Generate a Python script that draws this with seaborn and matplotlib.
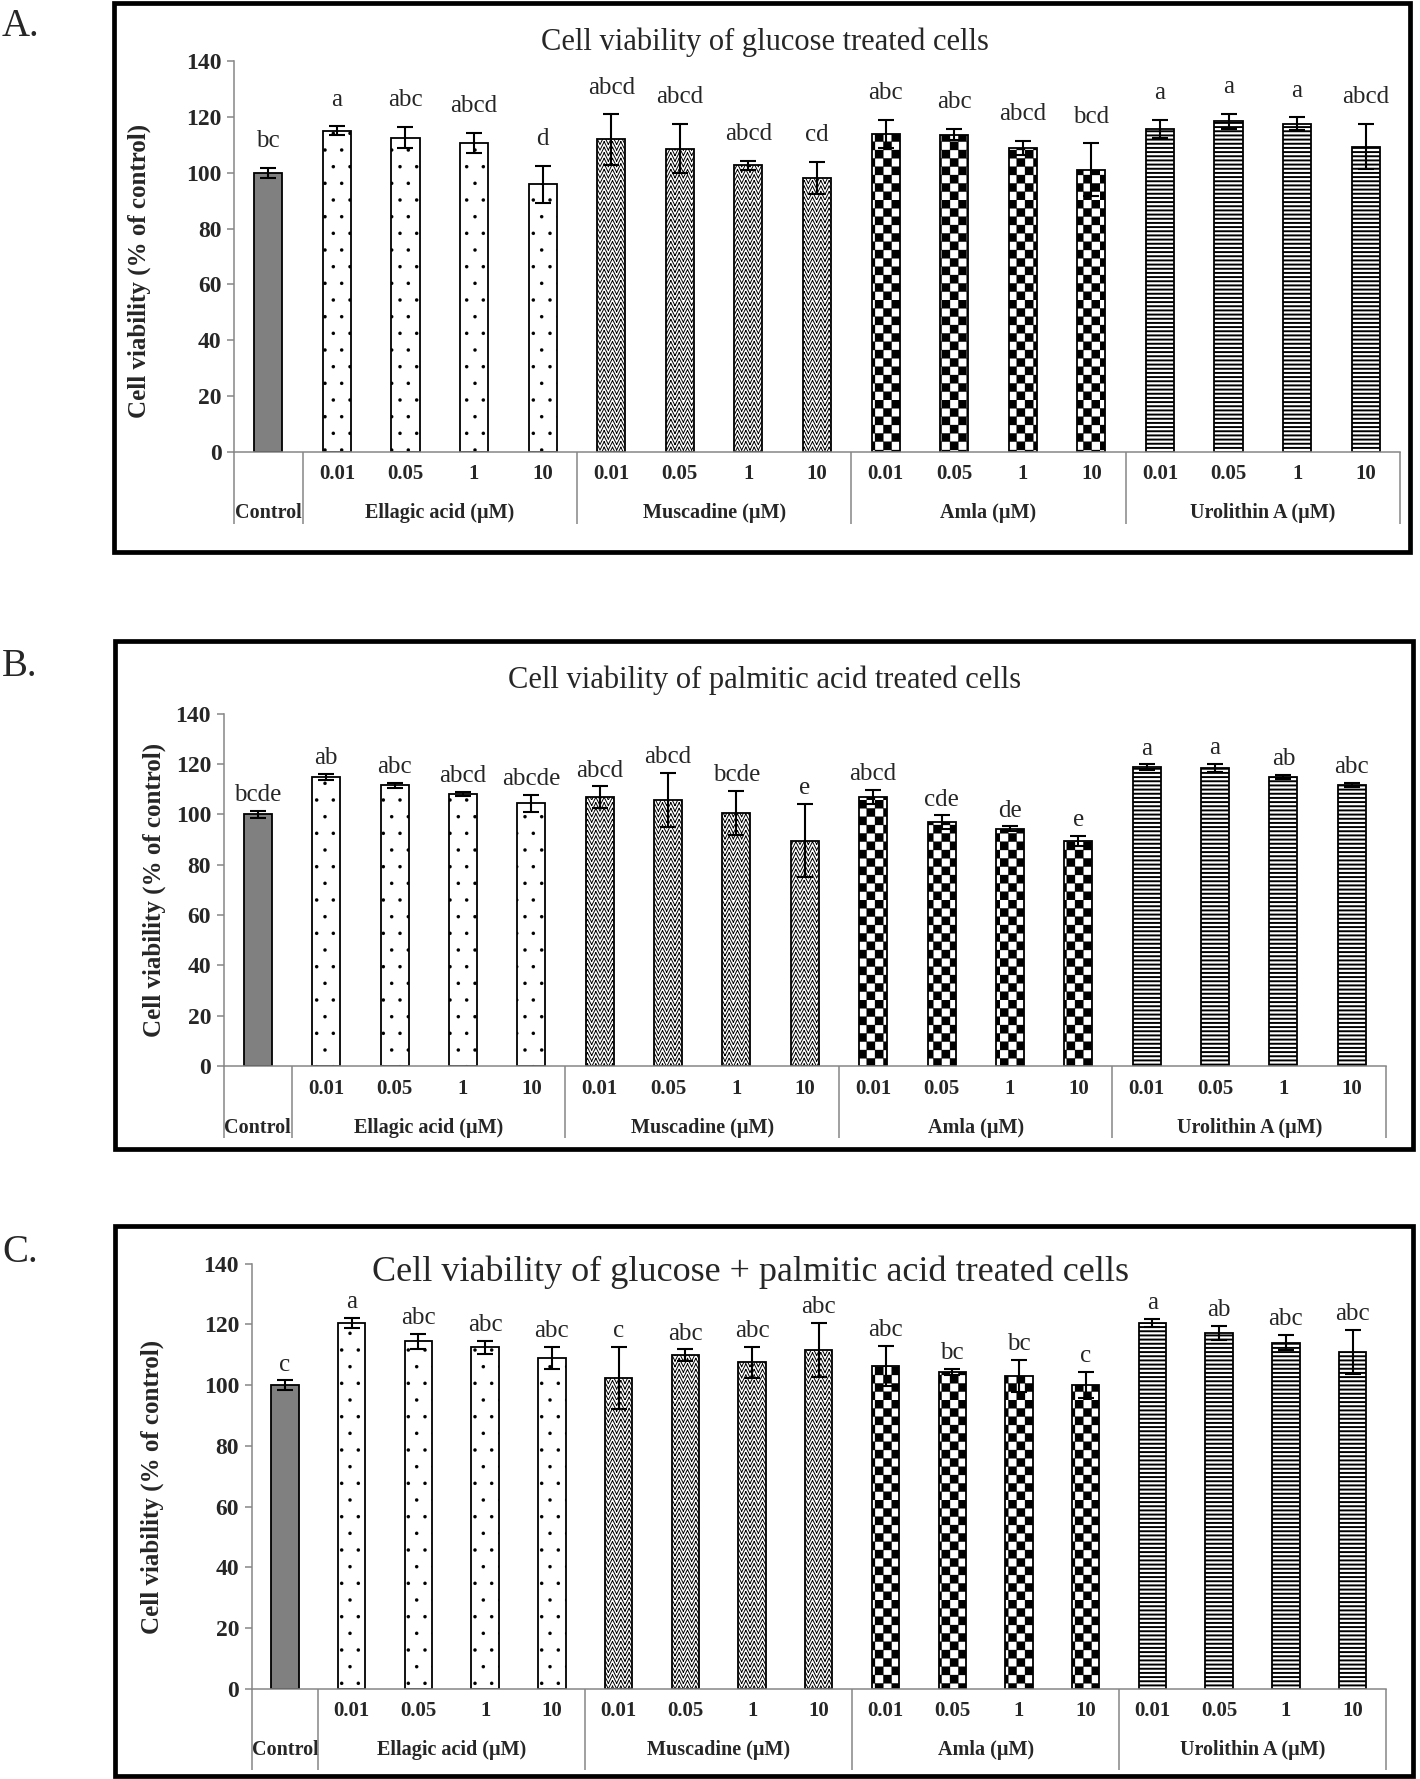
import numpy as np
import pandas as pd
import matplotlib
matplotlib.use("Agg")
import matplotlib.pyplot as plt
import matplotlib.hatch as mhatch
from matplotlib.path import Path
from matplotlib.patches import Rectangle
import seaborn as sns

# ---- data ----
groups = ["Control", "Ellagic acid (µM)", "Muscadine (µM)", "Amla (µM)", "Urolithin A (µM)"]
doses = ["0.01", "0.05", "1", "10"]

glucose_mean = [100.0, 115.2, 112.7, 110.8, 95.9, 112.0, 108.7, 102.7, 98.2,
                114.0, 113.7, 109.0, 101.1, 115.9, 118.5, 117.7, 109.4]
glucose_sd = [1.7, 1.5, 3.7, 3.6, 6.5, 9.0, 8.8, 1.5, 5.8,
              5.1, 2.0, 2.4, 9.5, 3.2, 2.7, 2.2, 8.1]
glucose_letters = ["bc", "a", "abc", "abcd", "d", "abcd", "abcd", "abcd", "cd",
                   "abc", "abc", "abcd", "bcd", "a", "a", "a", "abcd"]

palmitic_mean = [100.0, 115.0, 111.5, 108.0, 104.4, 106.8, 105.6, 100.4, 89.6,
                 106.9, 96.8, 94.2, 89.4, 118.8, 118.5, 114.8, 111.7]
palmitic_sd = [1.3, 1.2, 1.1, 0.9, 3.4, 4.3, 10.8, 8.8, 14.5,
               2.8, 2.8, 1.0, 2.0, 1.0, 1.6, 0.8, 0.9]
palmitic_letters = ["bcde", "ab", "abc", "abcd", "abcde", "abcd", "abcd", "bcde", "e",
                    "abcd", "cde", "de", "e", "a", "a", "ab", "abc"]

combo_mean = [100.0, 120.5, 114.4, 112.5, 108.9, 102.4, 109.9, 107.5, 111.7,
              106.3, 104.4, 103.1, 100.1, 120.5, 117.3, 114.0, 110.9]
combo_sd = [1.6, 1.7, 2.6, 2.2, 3.7, 10.3, 1.9, 5.2, 8.9,
            6.6, 1.1, 5.3, 4.2, 1.3, 2.3, 2.5, 7.3]
combo_letters = ["c", "a", "abc", "abc", "abc", "c", "abc", "abc", "abc",
                 "abc", "bc", "bc", "c", "a", "ab", "abc", "abc"]

titles = ["Cell viability of glucose treated cells",
          "Cell viability of palmitic acid treated cells",
          "Cell viability of glucose + palmitic acid treated cells"]


# ---- extra hatch patterns: 'O' -> checkerboard, '*' -> zig zag ----
class CheckerHatch(mhatch.HatchPatternBase):
    def __init__(self, hatch, density):
        self.n = hatch.count("O") * density
        self.cells = [(i, j) for i in range(self.n) for j in range(self.n) if (i + j) % 2 == 0]
        self.num_vertices = 5 * len(self.cells)

    def set_vertices_and_codes(self, vertices, codes):
        s = 1.0 / self.n
        sq = np.array([[0, 0], [1, 0], [1, 1], [0, 1], [0, 0]], float) * s
        for k, (i, j) in enumerate(self.cells):
            vertices[5 * k:5 * k + 5] = sq + [i * s, j * s]
            codes[5 * k:5 * k + 5] = [Path.MOVETO, Path.LINETO, Path.LINETO,
                                      Path.LINETO, Path.CLOSEPOLY]


class ZigzagHatch(mhatch.HatchPatternBase):
    def __init__(self, hatch, density):
        n = hatch.count("*") * density
        self.teeth = n
        self.rows = n * 3 // 2
        self.extra = 2 if n else 0
        self.num_vertices = (self.rows + self.extra) * self.teeth * 4

    def set_vertices_and_codes(self, vertices, codes):
        t = self.teeth
        xs = np.linspace(0, 1, 2 * t + 1)
        ys = np.tile([0.0, 1.0], t + 1)[:2 * t + 1] / t
        seg = np.empty((4 * t, 2))
        seg[0::2, 0], seg[0::2, 1] = xs[:-1], ys[:-1]
        seg[1::2, 0], seg[1::2, 1] = xs[1:], ys[1:]
        m = len(seg)
        for i, r in enumerate(range(-self.extra, self.rows)):
            vertices[i * m:(i + 1) * m] = seg + [0, r / self.rows]
        codes[0::2] = Path.MOVETO
        codes[1::2] = Path.LINETO


mhatch._hatch_types = [CheckerHatch if h is mhatch.LargeCircles else
                       ZigzagHatch if h is mhatch.Stars else h
                       for h in mhatch._hatch_types]

sns.set_style("white")
plt.rcParams["font.family"] = ["Liberation Serif", "DejaVu Serif"]
plt.rcParams["hatch.linewidth"] = 0.8

GRAY = "#868686"
W, H = 1420, 1779
names = ["Control"] + [f"{g} {d}" for g in groups[1:] for d in doses]
level1 = [""] + doses * 4
group_pos = [0, 2.5, 6.5, 10.5, 14.5]
bounds = [-0.5, 0.5, 4.5, 8.5, 12.5, 16.5]
hatches = [None] + ["."] * 4 + ["**"] * 4 + ["OO"] * 4 + ["----"] * 4
hatch_lw = [0.8] + [0.1] * 4 + [0.7] * 4 + [0.2] * 4 + [1.4] * 4


def px_axes(left, right, top, bottom):
    return [left / W, 1 - bottom / H, (right - left) / W, (bottom - top) / H]


def draw_panel(ax, means, sds, letters, letter_pad, sep_len):
    df = pd.DataFrame({"condition": names, "viability": means})
    sns.barplot(data=df, x="condition", y="viability", order=names, color="white",
                width=0.41, edgecolor="black", linewidth=1.3, errorbar=None,
                saturation=1, ax=ax)
    for i, bar in enumerate(ax.patches[:len(names)]):
        if i == 0:
            bar.set_facecolor("#808080")
        else:
            bar.set_facecolor("white")
            bar.set_hatch(hatches[i])
            if hasattr(bar, "set_hatch_linewidth"):
                bar.set_hatch_linewidth(hatch_lw[i])
    x = np.arange(len(names))
    ax.errorbar(x, means, yerr=sds, fmt="none", ecolor="black", elinewidth=1.5,
                capsize=6, capthick=1.5, zorder=3)
    for i, lab in enumerate(letters):
        ax.annotate(lab, (i, means[i] + sds[i]), xytext=(0, letter_pad),
                    textcoords="offset points", ha="center", va="baseline", fontsize=18)

    ax.set_xlim(-0.5, 16.5)
    ax.set_ylim(0, 140)
    ax.set_yticks(range(0, 141, 20))
    ax.set_yticklabels([str(v) for v in range(0, 141, 20)], fontweight="bold", fontsize=17)
    ax.set_xticks(x, labels=level1, fontweight="bold", fontsize=15)
    ax.set_xticks(bounds, minor=True)
    ax.tick_params(axis="x", which="major", bottom=True, length=0, pad=9)
    ax.tick_params(axis="x", which="minor", bottom=True, length=sep_len, width=1.1,
                   color=GRAY)
    ax.tick_params(axis="y", left=True, length=5, width=1.1, color=GRAY, pad=4)
    ax.set_xlabel("")
    ax.set_ylabel("")
    sns.despine(ax=ax)
    for s in ["left", "bottom"]:
        ax.spines[s].set_color(GRAY)
        ax.spines[s].set_linewidth(1.1)

    sec = ax.secondary_xaxis("bottom")
    sec.set_xticks(group_pos, labels=groups, fontweight="bold", fontsize=14.5)
    sec.tick_params(length=0, pad=37)
    sec.spines["bottom"].set_visible(False)


fig = plt.figure(figsize=(W / 100, H / 100), dpi=100)

panels = [
    dict(ax=(234, 1400, 61.4, 451.8), frame=(114, 1410, 3, 552), mean=glucose_mean,
         sd=glucose_sd, let=glucose_letters, pad=15, sep=52, tag="A.", tag_y=26,
         title_y=50, title_x=765, title_fs=22, ylab=(139, 271)),
    dict(ax=(223.6, 1386, 713.6, 1066.2), frame=(115, 1413, 641, 1149), mean=palmitic_mean,
         sd=palmitic_sd, let=palmitic_letters, pad=7, sep=52, tag="B.", tag_y=666,
         title_y=688, title_x=765, title_fs=22, ylab=(154, 890)),
    dict(ax=(251.6, 1386, 1263.7, 1689), frame=(115, 1413, 1226, 1776), mean=combo_mean,
         sd=combo_sd, let=combo_letters, pad=7, sep=58, tag="C.", tag_y=1252,
         title_y=1281, title_x=751, title_fs=26, ylab=(152, 1487)),
]

for k, p in enumerate(panels):
    ax = fig.add_axes(px_axes(*p["ax"]))
    draw_panel(ax, p["mean"], p["sd"], p["let"], p["pad"], p["sep"])
    l, r, t, b = p["frame"]
    fig.add_artist(Rectangle((l / W, 1 - b / H), (r - l) / W, (b - t) / H,
                             transform=fig.transFigure, fill=False, lw=3.4, ec="black"))
    fig.text(2 / W, 1 - p["tag_y"] / H, p["tag"], fontsize=28, ha="left", va="center")
    fig.text(p["title_x"] / W, 1 - p["title_y"] / H, titles[k], fontsize=p["title_fs"],
             ha="center", va="baseline")
    fig.text(p["ylab"][0] / W, 1 - p["ylab"][1] / H, "Cell viability (% of control)",
             rotation=90, ha="center", va="center", fontsize=18, fontweight="bold")

fig.savefig("out.png", dpi=100)
